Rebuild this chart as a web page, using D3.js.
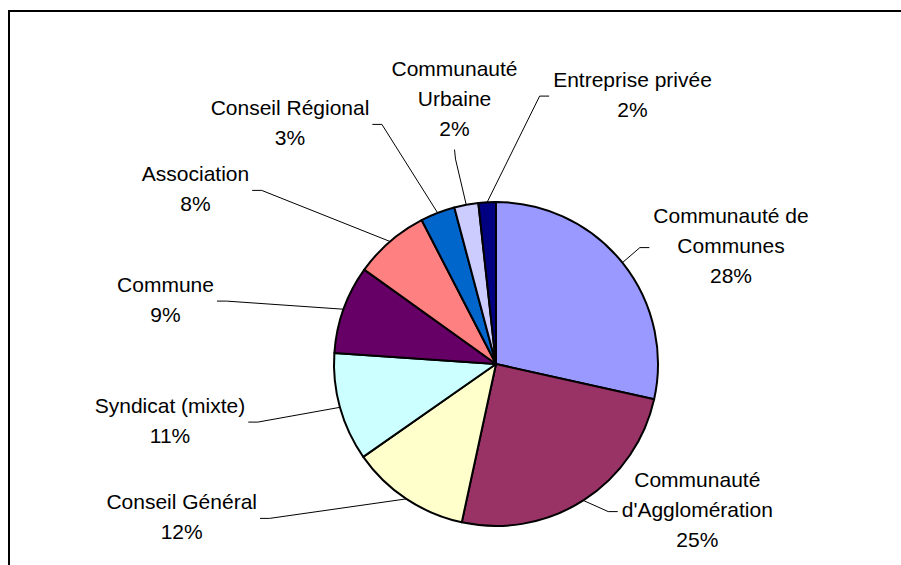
<!DOCTYPE html>
<html>
<head>
<meta charset="utf-8">
<script src="https://cdn.jsdelivr.net/npm/d3@7/dist/d3.min.js"></script>
<style>
  html, body { margin: 0; padding: 0; background: #fff; }
  svg { display: block; }
  text { font-family: "Liberation Sans", Arial, Helvetica, sans-serif; font-size: 21px; fill: #000; }
</style>
</head>
<body>
<svg id="chart" width="901" height="565"></svg>
<script>
// ---- data ----
const categories = [
  "Communauté de\nCommunes",
  "Communauté\nd'Agglomération",
  "Conseil Général",
  "Syndicat (mixte)",
  "Commune",
  "Association",
  "Conseil Régional",
  "Communauté\nUrbaine",
  "Entreprise privée"
];
const values = [28.49, 24.9, 11.9, 10.8, 8.8, 7.52, 3.45, 2.4, 1.74];
const colors = ["#9999FF", "#993366", "#FFFFCC", "#CCFFFF", "#660066", "#FF8080", "#0066CC", "#CCCCFF", "#000080"];

// ---- layout (label anchors relative to pie centre: text centre x, first baseline y) ----
const labelOffsets = [
  [235, -140.7], [201.3, 123.3], [-314.3, 145], [-326, 48.7], [-330.5, -72.3],
  [-300.5, -183], [-206, -249], [-41.5, -288], [136.5, -277.3]
];
const cx = 496, cy = 364, radius = 162, lineH = 29.8, stub = 9.5;

const svg = d3.select("#chart");

// outer frame (right and bottom edges lie outside the window)
svg.append("rect")
  .attr("x", 9).attr("y", 11).attr("width", 1000).attr("height", 700)
  .attr("fill", "none").attr("stroke", "#000").attr("stroke-width", 2);

const total = d3.sum(values);
const pie = d3.pie().sort(null).value(d => d)(values);
const arc = d3.arc().innerRadius(0).outerRadius(radius);
const edgeArc = d3.arc().innerRadius(radius).outerRadius(radius);

const g = svg.append("g").attr("transform", `translate(${cx},${cy})`);

g.selectAll("path.slice")
  .data(pie)
  .join("path")
  .attr("class", "slice")
  .attr("d", arc)
  .attr("fill", (d, i) => colors[i])
  .attr("stroke", "#000")
  .attr("stroke-width", 2)
  .attr("stroke-linejoin", "round");

// labels
const labelG = g.append("g");
const leaderG = g.insert("g", ":first-child");

pie.forEach((d, i) => {
  const lines = categories[i].split("\n").concat([Math.round(values[i] / total * 100) + "%"]);
  const [lx, ly] = labelOffsets[i];
  const t = labelG.append("text").attr("text-anchor", "middle");
  lines.forEach((s, k) => {
    t.append("tspan").attr("x", lx).attr("y", ly + k * lineH).text(s);
  });
  const bb = t.node().getBBox();
  const n = lines.length;
  const [px, py] = edgeArc.centroid(d);
  let ax, ay, ex, ey;
  if (px > bb.x && px < bb.x + bb.width) {
    // attach to bottom centre
    ax = lx; ay = ly + (n - 1) * lineH + 14;
    ex = ax + (px > ax ? 1 : -1); ey = ay + stub;
  } else if (px > bb.x + bb.width) {
    ax = bb.x + bb.width + 3; ay = ly + (n - 1) * lineH / 2 - 5.5;
    ex = ax + stub; ey = ay;
  } else {
    ax = bb.x - 4; ay = ly + (n - 1) * lineH / 2 - 5.5;
    ex = ax - stub; ey = ay;
  }
  leaderG.append("polyline")
    .attr("points", [[ax, ay], [ex, ey], [px, py]].map(p => p.join(",")).join(" "))
    .attr("fill", "none")
    .attr("stroke", "#000")
    .attr("stroke-width", 1);
});
</script>
</body>
</html>
